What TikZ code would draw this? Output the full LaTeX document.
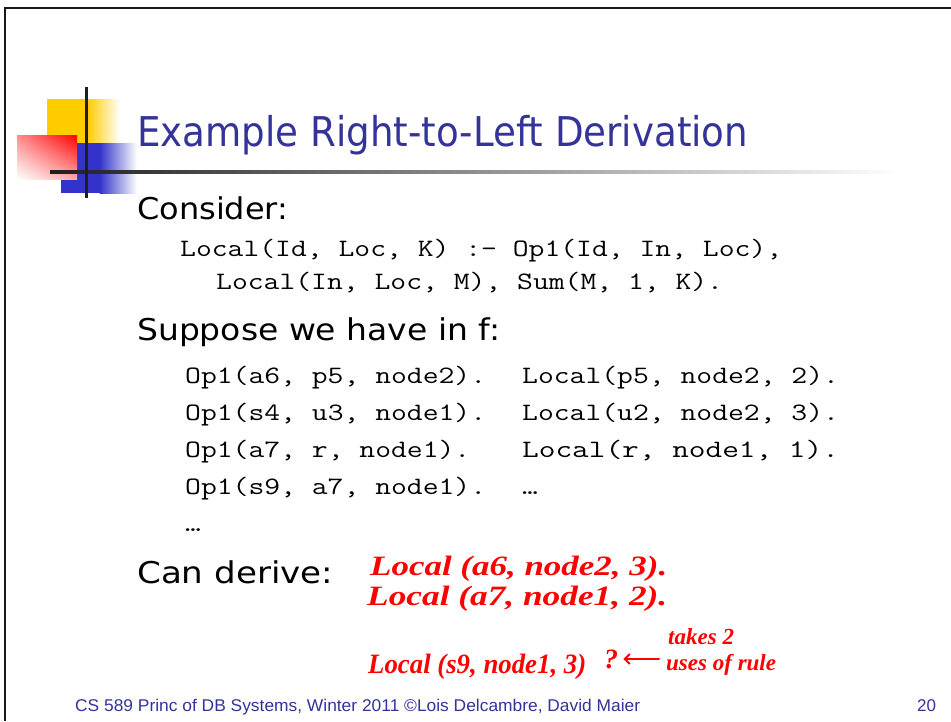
\documentclass[tikz,border=0pt]{standalone}
\usepackage{fontspec}
\usepackage{graphicx}
\usetikzlibrary{shadings,arrows.meta}
\setmainfont{DejaVu Sans}
\newfontfamily\footfont{Liberation Sans}
\newfontfamily\handfont{Liberation Serif}
\definecolor{slideblue}{RGB}{51,51,153}
\definecolor{logoyellow}{RGB}{255,204,0}
\definecolor{logoblue}{RGB}{51,51,204}
\definecolor{inkred}{RGB}{255,0,0}
% stretch or squeeze text horizontally to a given width
\newcommand{\fitto}[2]{\resizebox{#1}{\height}{#2}}
% a code line of #1 characters, each 15.84pt wide
\newcommand{\codeline}[2]{\resizebox{\dimexpr 15.84pt*#1\relax}{\height}{#2}}
\tikzset{
  titletext/.style={anchor=base west, inner sep=0pt, text=slideblue, font=\fontsize{41}{41}\selectfont},
  bodytext/.style={anchor=base west, inner sep=0pt, font=\fontsize{30}{30}\selectfont},
  codetext/.style={anchor=base west, inner sep=0pt, font=\ttfamily\fontsize{25}{25}\selectfont},
  handtext/.style={anchor=base west, inner sep=0pt, text=inkred, font=\handfont\itshape\bfseries\fontsize{28}{28}\selectfont},
  smallhand/.style={handtext, font=\handfont\itshape\bfseries\fontsize{23}{23}\selectfont},
  foottext/.style={anchor=base west, inner sep=0pt, text=slideblue, font=\footfont\fontsize{17}{17}\selectfont},
}
\begin{document}
\begin{tikzpicture}[x=1pt,y=-1pt]
\useasboundingbox (0,0) rectangle (951,721);
\fill[white] (0,0) rectangle (951,721);
% slide frame
\draw[line width=2.5pt, black!90] (5,721) -- (5,8) -- (951,8);
% logo squares
\fill[logoyellow] (47,99) rectangle (88,143);
\shade[left color=logoyellow, right color=white] (87.5,99) rectangle (120,143);
\fill[logoblue] (61,143) rectangle (100,193);
\shade[left color=logoblue, right color=white] (99.5,143) rectangle (137,193);
\shade[upper right=inkred, upper left=inkred!45, lower right=inkred!35, lower left=white] (17,135) rectangle (77,179);
% logo rules
\shade[left color=black!88, right color=white] (50,170.5) rectangle (900,173.5);
\fill[black!88] (84.5,87) rectangle (87.5,198);
% title
\node[titletext] (title) at (137,146) {\fitto{611pt}{Example Right-to-Left Derivation}};
% body
\node[bodytext] (consider) at (137,219) {\fitto{151pt}{Consider:}};
\node[codetext] (rule1) at (180,256) {\codeline{38}{Local(Id, Loc, K) :- Op1(Id, In, Loc),}};
\node[codetext] (rule2) at (216,289) {\codeline{32}{Local(In, Loc, M), Sum(M, 1, K).}};
\node[bodytext] (suppose) at (137,340) {\fitto{363pt}{Suppose we have in f:}};
\node[codetext] (op1) at (185,383) {\codeline{19}{Op1(a6, p5, node2).}};
\node[codetext] (op2) at (185,420) {\codeline{19}{Op1(s4, u3, node1).}};
\node[codetext] (op3) at (185,457) {\codeline{18}{Op1(a7, r, node1).}};
\node[codetext] (op4) at (185,494) {\codeline{19}{Op1(s9, a7, node1).}};
\node[codetext] (loc1) at (522,383) {\codeline{20}{Local(p5, node2, 2).}};
\node[codetext] (loc2) at (522,420) {\codeline{20}{Local(u2, node2, 3).}};
\node[codetext] (loc3) at (522,457) {\codeline{20}{Local(r, node1, 1).}};
\node[codetext] (loc4) at (522,494) {\codeline{1}{…}};
\node[codetext] (more) at (185,531) {\codeline{1}{…}};
\node[bodytext] (derive) at (137,583) {\fitto{196pt}{Can derive:}};
% handwritten answers
\node[handtext] (h1) at (370,575) {\fitto{297pt}{Local (a6, node2, 3).}};
\node[handtext] (h2) at (367,605) {\fitto{300pt}{Local (a7, node1, 2).}};
\node[handtext] (h3) at (368,673) {\fitto{218pt}{Local (s9, node1, 3)}};
\node[handtext] (q) at (604,668) {?};
\node[smallhand] (takes) at (668,644) {takes 2};
\node[smallhand] (uses) at (666,670) {uses of rule};
\coordinate (tail) at (659,659);
\draw[inkred, line width=2pt, line cap=round, -{Straight Barb[length=5pt]}] (tail) -- ([xshift=5pt]q.east |- tail);
% footer
\node[foottext] (foot) at (75,711) {\fitto{565pt}{CS 589 Princ of DB Systems, Winter 2011 ©Lois Delcambre, David Maier}};
\node[foottext] (page) at (917,711) {20};
\end{tikzpicture}
\end{document}
